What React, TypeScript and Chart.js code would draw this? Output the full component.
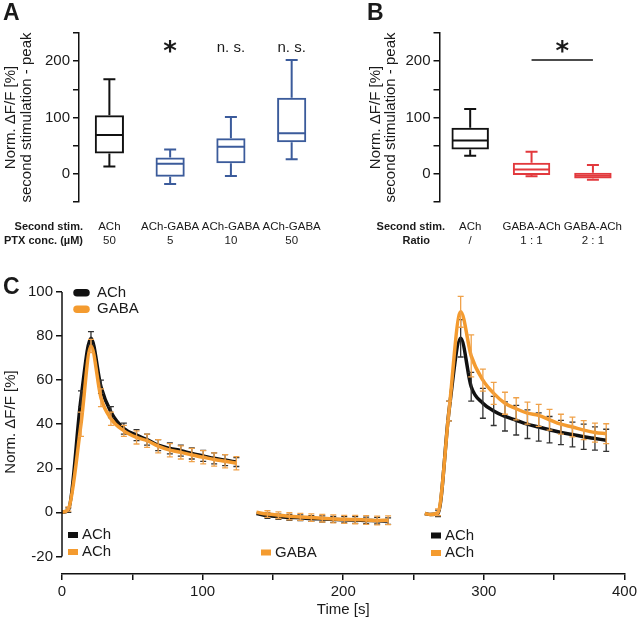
import React, { useEffect, useRef } from 'react';
import { Chart, registerables } from 'chart.js';

Chart.register(...registerables);

// ---------- Panel A data ----------
const A_LABELS = [['ACh', '50'], ['ACh-GABA', '5'], ['ACh-GABA', '10'], ['ACh-GABA', '50']];
const A_WHISKER_LOW = [13, -18, -4, 26];
const A_Q1 = [36, -5, 19, 56];
const A_MEDIAN = [69, 18, 48, 72];
const A_Q3 = [104, 29, 63, 135];
const A_WHISKER_HIGH = [168, 43, 101, 202];
const A_SIGNIF = ['', '*', 'n. s.', 'n. s.'];
const A_ROW_HEADERS = ['Second stim.', 'PTX conc. (µM)'];

// ---------- Panel B data ----------
const B_LABELS = [['ACh', '/'], ['GABA-ACh', '1 : 1'], ['GABA-ACh', '2 : 1']];
const B_WHISKER_LOW = [32, -4.5, -10.5];
const B_Q1 = [43, -2, -8.5];
const B_MEDIAN = [59, 7.5, -3.5];
const B_Q3 = [82, 19.5, 2];
const B_WHISKER_HIGH = [115, 39, 15.5];
const B_ROW_HEADERS = ['Second stim.', 'Ratio'];

const BOX_Y_TITLE = ['Norm. \u0394F/F [%]', 'second stimulation - peak'];

// ---------- Panel C data ----------
const C_T1 = [0, 4.5, 13.5, 20.6, 27.7, 34.8, 44, 53, 60.5, 68.4, 76.7, 84.5, 92.3, 100.4, 108.2, 116, 124];
const C_ACH_1 = [0, 1, 51.5, 79, 57, 45.5, 38, 35, 33, 30.5, 29, 28, 26.7, 25.6, 24.5, 23.7, 22.8];
const C_ACH_1_SEM = [null, 1, 3.6, 3, 3, 2.5, 2.5, 2.5, 2.5, 2.5, 2.5, 2.5, 2.5, 2.5, 2.5, 2.5, 2];
const C_GABA_1 = [0, 1.5, 40, 75.5, 52, 42.5, 37, 34, 32.5, 30, 28.2, 27.2, 26, 25, 24, 23.2, 22.3];
const C_GABA_1_SEM = [null, 1, 5.5, 3, 4, 3, 2.5, 3, 3, 3, 3, 3, 3, 3, 3, 3, 3];

const C_T2 = [138.3, 146.1, 153.9, 161.7, 169.5, 177.3, 185.1, 192.9, 200.7, 208.5, 216.3, 224.1, 231.9];
const C_ACH_2 = [-0.5, -1.5, -2, -2.3, -2.5, -2.8, -3, -3.2, -3.4, -3.5, -3.7, -3.8, -4];
const C_ACH_2_SEM = [null, 1.2, 1.2, 1.3, 1.3, 1.3, 1.4, 1.4, 1.4, 1.5, 1.5, 1.5, 1.5];
const C_GABA_2 = [0, -0.8, -1.3, -1.8, -2.1, -2.4, -2.7, -3, -3.2, -3.3, -3.5, -3.7, -3.6];
const C_GABA_2_SEM = [null, 1.5, 1.5, 1.6, 1.6, 1.7, 1.7, 1.8, 1.8, 1.9, 2, 2, 2];

const C_T3 = [258, 262, 267.4, 275.2, 283.5, 291, 299.3, 307, 315, 323, 331, 339, 346.7, 354.8, 363, 371, 379, 387];
const C_ACH_3 = [-0.5, -1, -0.5, 46, 79, 57, 49.5, 46, 43.5, 41.8, 40, 38.7, 37.5, 36.2, 35.3, 34.3, 33.5, 32.7];
const C_ACH_3_SEM = [null, null, 1.5, 4.5, 8.5, 6.5, 6.8, 6.6, 6.6, 6.7, 6.5, 6.4, 6, 5.5, 5.6, 5.7, 5.3, 5];
const C_GABA_3 = [-0.5, -1, 0, 46, 91, 71, 60, 54, 49.5, 47, 45, 44, 42, 40, 38.7, 37.3, 36.2, 35.7];
const C_GABA_3_SEM = [null, null, 1.5, 4.5, 7, 9.5, 5, 5, 5, 5, 5, 5, 4.7, 4.5, 4.5, 4.3, 4.3, 4.5];

const C_Y_TICKS = [-20, 0, 20, 40, 60, 80, 100];
const C_Y_TITLE = 'Norm. \u0394F/F [%]';
const C_X_TITLE = 'Time [s]';
const C_SERIES = ['ACh', 'GABA'];

// ---------- styles ----------
const FONT = "'Liberation Sans', Arial, Helvetica, sans-serif";
const STAR_FONT = `bold 26px 'DejaVu Sans', ${FONT}`;
const TEXT = '#1a1a1a';
const BLACK = '#111111';
const BLUE = '#3b5b9b';
const RED = '#e2393d';
const ORANGE = '#f49b2f';
const ORANGE_ERR = '#f0a24a';

Chart.defaults.font.family = FONT;
Chart.defaults.color = TEXT;

function textCentered(ctx: CanvasRenderingContext2D, text: string, x: number, y: number, font: string, color = TEXT) {
  ctx.save();
  ctx.font = font;
  ctx.fillStyle = color;
  ctx.textAlign = 'center';
  ctx.textBaseline = 'alphabetic';
  const m = ctx.measureText(text);
  const base = y + (m.actualBoundingBoxAscent - m.actualBoundingBoxDescent) / 2;
  ctx.fillText(text, x, base);
  ctx.restore();
}

function textAt(ctx: CanvasRenderingContext2D, text: string, x: number, y: number, font: string, align: CanvasTextAlign, color = TEXT) {
  ctx.save();
  ctx.font = font;
  ctx.fillStyle = color;
  ctx.textAlign = align;
  ctx.textBaseline = 'middle';
  ctx.fillText(text, x, y);
  ctx.restore();
}

function rotatedText(ctx: CanvasRenderingContext2D, text: string, x: number, y: number, font: string) {
  ctx.save();
  ctx.translate(x, y);
  ctx.rotate(-Math.PI / 2);
  ctx.font = font;
  ctx.fillStyle = TEXT;
  ctx.textAlign = 'center';
  ctx.textBaseline = 'middle';
  ctx.fillText(text, 0, 0);
  ctx.restore();
}

type BoxSpec = {
  labels: string[][];
  low: number[];
  q1: number[];
  med: number[];
  q3: number[];
  high: number[];
  colors: string[];
  axisWidth: number;
  padRight: number;
  barPct: number;
  capWidth: number;
  titleX: number[];
  letter: string;
  letterX: number;
  headers: string[];
  headerX: number[];
  annotate: (chart: any) => void;
};

function boxConfig(spec: BoxSpec): any {
  const boxPlugin = {
    id: 'boxParts',
    afterDatasetsDraw(chart: any) {
      const ctx: CanvasRenderingContext2D = chart.ctx;
      const ys = chart.scales.y;
      const meta = chart.getDatasetMeta(0);
      meta.data.forEach((el: any, i: number) => {
        const x = el.x;
        const w = el.width;
        const cap = spec.capWidth / 2;
        const pMed = ys.getPixelForValue(spec.med[i]);
        const pQ1 = ys.getPixelForValue(spec.q1[i]);
        const pQ3 = ys.getPixelForValue(spec.q3[i]);
        const pLo = ys.getPixelForValue(spec.low[i]);
        const pHi = ys.getPixelForValue(spec.high[i]);
        ctx.save();
        ctx.strokeStyle = spec.colors[i];
        ctx.lineWidth = 2;
        ctx.beginPath();
        ctx.moveTo(x - w / 2 + 1, pMed);
        ctx.lineTo(x + w / 2 - 1, pMed);
        ctx.moveTo(x, pQ3);
        ctx.lineTo(x, pHi);
        ctx.moveTo(x - cap, pHi);
        ctx.lineTo(x + cap, pHi);
        ctx.moveTo(x, pQ1);
        ctx.lineTo(x, pLo);
        ctx.moveTo(x - cap, pLo);
        ctx.lineTo(x + cap, pLo);
        ctx.stroke();
        ctx.restore();
      });
      const ca = chart.chartArea;
      const cy = (ca.top + ca.bottom) / 2;
      BOX_Y_TITLE.forEach((t, i) => rotatedText(ctx, t, spec.titleX[i], cy, `15px ${FONT}`));
      spec.headers.forEach((h, i) => textAt(ctx, h, spec.headerX[i], ca.bottom + 25 + i * 13.8, `bold 11px ${FONT}`, 'right'));
      ctx.save();
      ctx.font = `bold 23px ${FONT}`;
      ctx.fillStyle = TEXT;
      ctx.textBaseline = 'alphabetic';
      ctx.fillText(spec.letter, spec.letterX, 20);
      ctx.restore();
      spec.annotate(chart);
    },
  };

  return {
    type: 'bar',
    data: {
      labels: spec.labels,
      datasets: [
        {
          data: spec.q1.map((q, i) => [q, spec.q3[i]]),
          backgroundColor: 'rgba(255,255,255,0)',
          borderColor: spec.colors,
          borderWidth: 2,
          borderSkipped: false,
          barPercentage: spec.barPct,
          categoryPercentage: 1,
        },
      ],
    },
    options: {
      responsive: false,
      animation: false,
      devicePixelRatio: 1,
      layout: { padding: { top: 33, right: spec.padRight, bottom: 0, left: 0 } },
      plugins: { legend: { display: false }, tooltip: { enabled: false } },
      scales: {
        x: {
          grid: { display: false, drawTicks: false },
          border: { display: false },
          ticks: { color: TEXT, font: { size: 11.5, family: FONT }, padding: 18, maxRotation: 0, autoSkip: false },
          afterFit: (s: any) => {
            s.height = 58;
          },
        },
        y: {
          min: -50,
          max: 250,
          ticks: {
            stepSize: 50,
            color: TEXT,
            font: { size: 15, family: FONT },
            padding: 3,
            callback: (v: any) => (Number(v) % 100 === 0 ? String(v) : ''),
          },
          grid: { drawOnChartArea: false, drawTicks: true, tickLength: 6, color: BLACK, lineWidth: 1.5 },
          border: { display: true, color: BLACK, width: 1.5 },
          afterFit: (s: any) => {
            s.width = spec.axisWidth;
          },
        },
      },
    },
    plugins: [boxPlugin],
  };
}

function configA() {
  return boxConfig({
    labels: A_LABELS,
    low: A_WHISKER_LOW,
    q1: A_Q1,
    med: A_MEDIAN,
    q3: A_Q3,
    high: A_WHISKER_HIGH,
    colors: [BLACK, BLUE, BLUE, BLUE],
    axisWidth: 79,
    padRight: 10,
    barPct: 0.48,
    capWidth: 12,
    titleX: [11, 27],
    letter: 'A',
    letterX: 3,
    headers: A_ROW_HEADERS,
    headerX: [83, 83],
    annotate: (chart: any) => {
      const meta = chart.getDatasetMeta(0);
      const ys = chart.scales.y;
      A_SIGNIF.forEach((s, i) => {
        if (!s) return;
        const x = meta.data[i].x;
        if (s === '*') textCentered(chart.ctx, s, x, ys.getPixelForValue(225.5), STAR_FONT);
        else textCentered(chart.ctx, s, x, ys.getPixelForValue(224), `15px ${FONT}`);
      });
    },
  });
}

function configB() {
  return boxConfig({
    labels: B_LABELS,
    low: B_WHISKER_LOW,
    q1: B_Q1,
    med: B_MEDIAN,
    q3: B_Q3,
    high: B_WHISKER_HIGH,
    colors: [BLACK, RED, RED],
    axisWidth: 119.5,
    padRight: 0,
    barPct: 0.61,
    capWidth: 12,
    titleX: [56, 71],
    letter: 'B',
    letterX: 47,
    headers: B_ROW_HEADERS,
    headerX: [125, 110],
    annotate: (chart: any) => {
      const meta = chart.getDatasetMeta(0);
      const ys = chart.scales.y;
      const ctx: CanvasRenderingContext2D = chart.ctx;
      const x1 = meta.data[1].x;
      const x2 = meta.data[2].x;
      const yl = ys.getPixelForValue(202);
      ctx.save();
      ctx.strokeStyle = BLACK;
      ctx.lineWidth = 1.5;
      ctx.beginPath();
      ctx.moveTo(x1, yl);
      ctx.lineTo(x2, yl);
      ctx.stroke();
      ctx.restore();
      textCentered(ctx, '*', (x1 + x2) / 2, ys.getPixelForValue(225.5), STAR_FONT);
    },
  });
}

function configC(): any {
  const mk = (label: string, t: number[], v: number[], sem: (number | null)[], color: string, order: number) => ({
    label,
    data: t.map((x, i) => ({ x, y: v[i] })),
    sem,
    errColor: color === ORANGE ? ORANGE_ERR : '#333333',
    borderColor: color,
    backgroundColor: color,
    borderWidth: 3.5,
    pointRadius: 0,
    cubicInterpolationMode: 'monotone',
    fill: false,
    order,
  });

  const errorBars = {
    id: 'errorBars',
    afterDatasetDraw(chart: any, args: any) {
      const ds = chart.data.datasets[args.index];
      const ys = chart.scales.y;
      const ctx: CanvasRenderingContext2D = chart.ctx;
      ctx.save();
      ctx.strokeStyle = ds.errColor;
      ctx.lineWidth = 1.3;
      ctx.beginPath();
      args.meta.data.forEach((pt: any, j: number) => {
        const e = ds.sem[j];
        if (e == null) return;
        const v = ds.data[j].y;
        const yt = ys.getPixelForValue(v + e);
        const yb = ys.getPixelForValue(v - e);
        ctx.moveTo(pt.x, yt);
        ctx.lineTo(pt.x, yb);
        ctx.moveTo(pt.x - 3, yt);
        ctx.lineTo(pt.x + 3, yt);
        ctx.moveTo(pt.x - 3, yb);
        ctx.lineTo(pt.x + 3, yb);
      });
      ctx.stroke();
      ctx.restore();
    },
  };

  const overlay = {
    id: 'overlayC',
    afterDraw(chart: any) {
      const ctx: CanvasRenderingContext2D = chart.ctx;
      const ys = chart.scales.y;
      const ca = chart.chartArea;
      ctx.save();
      ctx.strokeStyle = BLACK;
      ctx.lineWidth = 1.5;
      ctx.beginPath();
      ctx.moveTo(ca.left, ys.getPixelForValue(C_Y_TICKS[C_Y_TICKS.length - 1]));
      ctx.lineTo(ca.left, ys.getPixelForValue(C_Y_TICKS[0]));
      ctx.stroke();
      ctx.restore();
      rotatedText(ctx, C_Y_TITLE, 11, 152, `15px ${FONT}`);
      textAt(ctx, C_X_TITLE, (ca.left + ca.right) / 2, 340, `15px ${FONT}`, 'center');
      ctx.save();
      ctx.font = `bold 23px ${FONT}`;
      ctx.fillStyle = TEXT;
      ctx.fillText('C', 3, 24);
      ctx.restore();
      const pill = (y: number, color: string) => {
        ctx.save();
        ctx.strokeStyle = color;
        ctx.lineWidth = 7.5;
        ctx.lineCap = 'round';
        ctx.beginPath();
        ctx.moveTo(77, y);
        ctx.lineTo(86, y);
        ctx.stroke();
        ctx.restore();
      };
      pill(22.7, BLACK);
      textAt(ctx, C_SERIES[0], 97, 22.7, `15px ${FONT}`, 'left');
      pill(39.3, ORANGE);
      textAt(ctx, C_SERIES[1], 97, 39.3, `15px ${FONT}`, 'left');
      const stim = (x: number, y: number, color: string, label: string) => {
        ctx.save();
        ctx.fillStyle = color;
        ctx.fillRect(x, y - 3, 10, 6);
        ctx.restore();
        textAt(ctx, label, x + 14, y, `15px ${FONT}`, 'left');
      };
      stim(68, 265, BLACK, 'ACh');
      stim(68, 282, ORANGE, 'ACh');
      stim(261, 282.5, ORANGE, 'GABA');
      stim(431, 265.5, BLACK, 'ACh');
      stim(431, 283, ORANGE, 'ACh');
    },
  };

  return {
    type: 'line',
    data: {
      datasets: [
        mk('GABA-1', C_T1, C_GABA_1, C_GABA_1_SEM, ORANGE, 0),
        mk('GABA-2', C_T2, C_GABA_2, C_GABA_2_SEM, ORANGE, 0),
        mk('GABA-3', C_T3, C_GABA_3, C_GABA_3_SEM, ORANGE, 0),
        mk('ACh-1', C_T1, C_ACH_1, C_ACH_1_SEM, BLACK, 1),
        mk('ACh-2', C_T2, C_ACH_2, C_ACH_2_SEM, BLACK, 1),
        mk('ACh-3', C_T3, C_ACH_3, C_ACH_3_SEM, BLACK, 1),
      ],
    },
    options: {
      responsive: false,
      animation: false,
      devicePixelRatio: 1,
      layout: { padding: { top: 22, right: 15, bottom: 0, left: 0 } },
      plugins: { legend: { display: false }, tooltip: { enabled: false } },
      scales: {
        x: {
          type: 'linear',
          min: 0,
          max: 400,
          ticks: {
            stepSize: 50,
            color: TEXT,
            font: { size: 15, family: FONT },
            padding: 3,
            maxRotation: 0,
            callback: (v: any) => (Number(v) % 100 === 0 ? String(v) : ''),
          },
          grid: { drawOnChartArea: false, drawTicks: true, tickLength: 6, color: BLACK, lineWidth: 1.5 },
          border: { display: true, color: BLACK, width: 1.5 },
          afterFit: (s: any) => {
            s.height = 47;
          },
        },
        y: {
          min: -28,
          max: 100,
          afterBuildTicks: (s: any) => {
            s.ticks = C_Y_TICKS.map((v) => ({ value: v }));
          },
          ticks: { color: TEXT, font: { size: 15, family: FONT }, padding: 3 },
          grid: { drawOnChartArea: false, drawTicks: true, tickLength: 6, color: BLACK, lineWidth: 1.5 },
          border: { display: false },
          afterFit: (s: any) => {
            s.width = 62;
          },
        },
      },
    },
    plugins: [errorBars, overlay],
  };
}

export default function App() {
  const aRef = useRef<HTMLCanvasElement>(null);
  const bRef = useRef<HTMLCanvasElement>(null);
  const cRef = useRef<HTMLCanvasElement>(null);

  useEffect(() => {
    document.body.style.margin = '0';
    const charts = [
      new Chart(aRef.current as HTMLCanvasElement, configA()),
      new Chart(bRef.current as HTMLCanvasElement, configB()),
      new Chart(cRef.current as HTMLCanvasElement, configC()),
    ];
    return () => charts.forEach((c) => c.destroy());
  }, []);

  return (
    <div style={{ position: 'relative', width: 640, height: 621, background: '#fff', overflow: 'hidden' }}>
      <canvas ref={aRef} width={340} height={260} style={{ position: 'absolute', left: 0, top: 0 }} />
      <canvas ref={bRef} width={320} height={260} style={{ position: 'absolute', left: 320, top: 0 }} />
      <canvas ref={cRef} width={640} height={351} style={{ position: 'absolute', left: 0, top: 270 }} />
    </div>
  );
}
